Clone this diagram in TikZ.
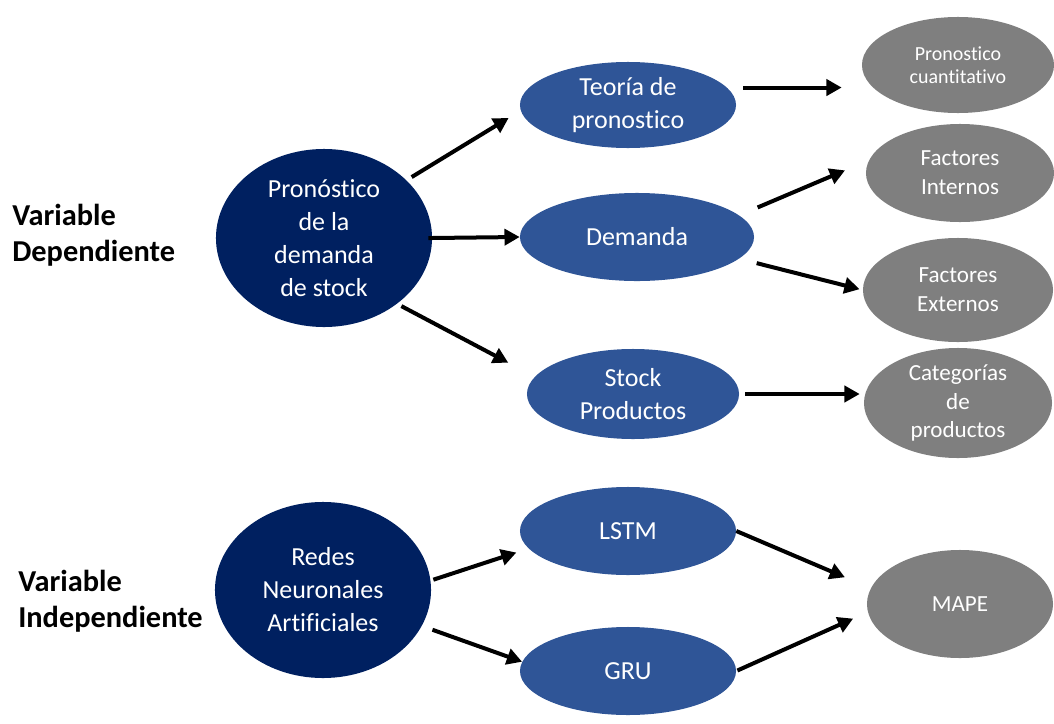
\documentclass[tikz,border=0pt]{standalone}
\usepackage{fontspec}
\setmainfont[Ligatures=NoCommon]{Carlito}
\usepackage{xcolor}
\usepackage{tikz}
\usetikzlibrary{shapes.geometric,arrows.meta}
\definecolor{navy}{HTML}{002060}
\definecolor{midblue}{HTML}{2F5597}
\definecolor{midgray}{HTML}{7F7F7F}

\begin{document}
\begin{tikzpicture}[x=0.025cm,y=-0.025cm,
 dk/.style={ellipse,fill=navy,text=white,align=center,inner sep=0pt,font=\fontsize{18.5}{23.5}\selectfont},
 bl/.style={ellipse,fill=midblue,text=white,align=center,inner sep=0pt,font=\fontsize{18.5}{23.5}\selectfont},
 gr/.style={ellipse,fill=midgray,text=white,align=center,inner sep=0pt,font=\fontsize{16.4}{20.6}\selectfont},
 lab/.style={anchor=west,align=left,inner sep=0pt,font=\bfseries\fontsize{21.6}{25.6}\selectfont},
 ar/.style={-{Triangle[length=3.8mm,width=4mm]},line width=1mm}]
\useasboundingbox (0,0) rectangle (1054,724);
\clip (0,0) rectangle (1054,724);
% variable dependiente
\node[lab] (vdep) at (12,235) {Variable\\Dependiente};
\node[dk,minimum width=5.4cm,minimum height=4.45cm] (pron) at (324,238) {Pronóstico\\de la\\demanda\\de stock};
\node[bl,minimum width=5.4cm,minimum height=2.15cm] (teo) at (628,105) {Teoría de\\pronostico};
\node[bl,minimum width=5.85cm,minimum height=2.2cm] (dem) at (637,237) {Demanda};
\node[bl,minimum width=5.3cm,minimum height=2.25cm] (stock) at (633,394) {Stock\\Productos};
\node[gr,minimum width=4.8cm,minimum height=2.4cm,font=\fontsize{14.2}{16.4}\selectfont] (cuant) at (958,65) {Pronostico\\cuantitativo};
\node[gr,minimum width=4.7cm,minimum height=2.45cm] (int) at (960,173) {Factores\\Internos};
\node[gr,minimum width=4.75cm,minimum height=2.6cm] (ext) at (958,290) {Factores\\Externos};
\node[gr,minimum width=4.7cm,minimum height=2.75cm] (cat) at (958,403) {Categorías\\de\\productos};
% variable independiente
\node[lab] (vind) at (18,601) {Variable\\Independiente};
\node[dk,minimum width=5.4cm,minimum height=4.4cm] (redes) at (323,590) {Redes\\Neuronales\\Artificiales};
\node[bl,minimum width=5.4cm,minimum height=2.2cm] (lstm) at (628,531) {LSTM};
\node[bl,minimum width=5.4cm,minimum height=2.2cm] (gru) at (628,671) {GRU};
\node[gr,minimum width=4.65cm,minimum height=2.7cm,font=\fontsize{16.4}{20.6}\selectfont] (mape) at (960,604) {MAPE};
% flechas
\draw[ar,shorten <=0.15cm,shorten >=0.35cm] (pron.35) -- (teo.183);
\draw[ar,shorten <=-0.1cm] (pron.east) -- (dem.west);
\draw[ar,shorten <=0.12cm,shorten >=0.75cm] (pron.-42) -- (stock.170);
\draw[ar,shorten <=0.4cm,shorten >=0.5cm] (teo.10) -- (teo.10 -| cuant.west);
\draw[ar,shorten <=0.5cm,shorten >=0.65cm] (dem.12) -- (int.172);
\draw[ar,shorten <=0.45cm,shorten >=0.08cm] (dem.-12) -- (ext.west);
\draw[ar,shorten <=0.15cm,shorten >=0.1cm] (stock.east) -- (stock.east -| cat.west);
\draw[ar,shorten <=0.07cm,shorten >=0.32cm] (redes.5) -- (lstm.190);
\draw[ar,shorten <=0.28cm] (redes.-20) -- (gru.175);
\draw[ar,shorten >=0.7cm] (lstm.east) -- (mape.170);
\draw[ar,shorten <=0.03cm,shorten >=0.4cm] (gru.east) -- (mape.185);
\end{tikzpicture}
\end{document}
